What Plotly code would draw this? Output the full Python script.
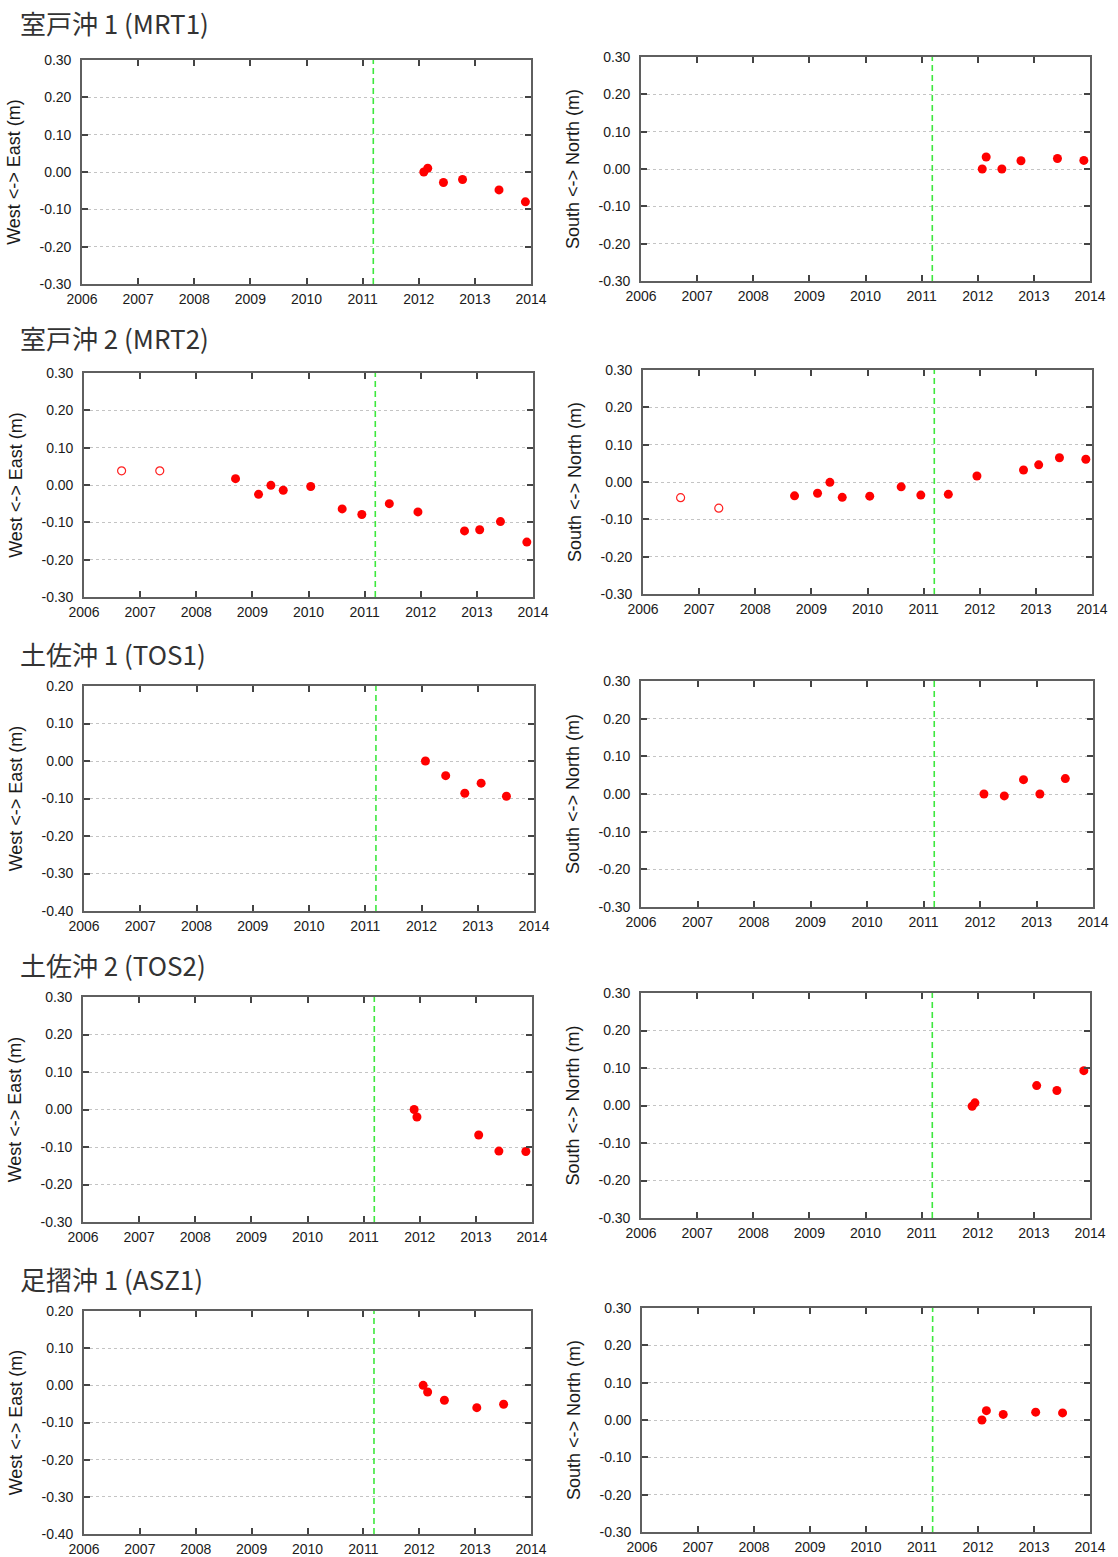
import plotly.graph_objects as go

W, H = 1118, 1557

# ---------------- data ----------------
station_titles = ["室戸沖 1 (MRT1)", "室戸沖 2 (MRT2)", "土佐沖 1 (TOS1)",
                  "土佐沖 2 (TOS2)", "足摺沖 1 (ASZ1)"]
ew_label = "West <-> East (m)"
ns_label = "South <-> North (m)"
quake_year = 2011.19
year_ticks = [2006, 2007, 2008, 2009, 2010, 2011, 2012, 2013, 2014]
year_labels = ["2006", "2007", "2008", "2009", "2010", "2011", "2012", "2013", "2014"]

# MRT1
mrt1_ew_t = [2012.09, 2012.16, 2012.44, 2012.78, 2013.43, 2013.90]
mrt1_ew_v = [0.000, 0.010, -0.028, -0.020, -0.048, -0.080]
mrt1_ns_t = [2012.08, 2012.15, 2012.43, 2012.77, 2013.42, 2013.89]
mrt1_ns_v = [0.000, 0.032, 0.000, 0.022, 0.028, 0.023]
# MRT2 (open = early campaign)
mrt2_open_t = [2006.67, 2007.35]
mrt2_ew_open_v = [0.038, 0.038]
mrt2_ns_open_v = [-0.042, -0.070]
mrt2_t = [2008.70, 2009.11, 2009.33, 2009.55, 2010.04, 2010.60, 2010.95,
          2011.44, 2011.95, 2012.78, 2013.05, 2013.42, 2013.89]
mrt2_ew_v = [0.017, -0.025, -0.001, -0.014, -0.004, -0.064, -0.079,
             -0.050, -0.072, -0.123, -0.120, -0.098, -0.153]
mrt2_ns_v = [-0.037, -0.030, -0.001, -0.041, -0.038, -0.013, -0.035,
             -0.033, 0.016, 0.032, 0.046, 0.065, 0.061]
# TOS1
tos1_t = [2012.07, 2012.43, 2012.77, 2013.06, 2013.51]
tos1_ew_v = [0.000, -0.039, -0.086, -0.059, -0.094]
tos1_ns_v = [0.000, -0.005, 0.038, 0.000, 0.041]
# TOS2
tos2_t = [2011.90, 2011.95, 2013.05, 2013.41, 2013.89]
tos2_ew_v = [0.000, -0.020, -0.068, -0.111, -0.112]
tos2_ns_v = [-0.002, 0.007, 0.053, 0.040, 0.093]
# ASZ1
asz1_t = [2012.07, 2012.15, 2012.45, 2013.03, 2013.51]
asz1_ew_v = [0.000, -0.018, -0.040, -0.060, -0.051]
asz1_ns_v = [0.000, 0.025, 0.015, 0.021, 0.019]

yt_a = [-0.30, -0.20, -0.10, 0.00, 0.10, 0.20, 0.30]
yl_a = ["-0.30", "-0.20", "-0.10", "0.00", "0.10", "0.20", "0.30"]
yt_b = [-0.40, -0.30, -0.20, -0.10, 0.00, 0.10, 0.20]
yl_b = ["-0.40", "-0.30", "-0.20", "-0.10", "0.00", "0.10", "0.20"]

# panels: (filled t, filled v, open t, open v, ytick set, ylabel)
panels = [
    (mrt1_ew_t, mrt1_ew_v, [], [], "a", ew_label),
    (mrt1_ns_t, mrt1_ns_v, [], [], "a", ns_label),
    (mrt2_t, mrt2_ew_v, mrt2_open_t, mrt2_ew_open_v, "a", ew_label),
    (mrt2_t, mrt2_ns_v, mrt2_open_t, mrt2_ns_open_v, "a", ns_label),
    (tos1_t, tos1_ew_v, [], [], "b", ew_label),
    (tos1_t, tos1_ns_v, [], [], "a", ns_label),
    (tos2_t, tos2_ew_v, [], [], "a", ew_label),
    (tos2_t, tos2_ns_v, [], [], "a", ns_label),
    (asz1_t, asz1_ew_v, [], [], "b", ew_label),
    (asz1_t, asz1_ns_v, [], [], "a", ns_label),
]

# plot-area boxes in screen pixels (left, top, right, bottom)
boxes = [
    (82, 60, 531, 284), (641, 57, 1090, 281),
    (84, 373, 533, 597), (643, 370, 1092, 594),
    (84, 686, 534, 911), (641, 681, 1093, 907),
    (83, 997, 532, 1222), (641, 993, 1090, 1218),
    (84, 1311, 531, 1534), (642, 1308, 1090, 1532),
]
title_y = [23, 337, 653, 964, 1278]


def px_x(v):
    return v / W


def px_y(v):
    return 1 - v / H


fig = go.Figure()
layout = dict(
    width=W, height=H, margin=dict(l=0, r=0, t=0, b=0, autoexpand=False),
    paper_bgcolor="white", plot_bgcolor="white", showlegend=False,
    font=dict(family="Liberation Sans, Arial, sans-serif", color="#222"),
)
shapes = []
annotations = []
frame_col = "#5f5f5f"
for i, (pt, pv, ot, ov, ys, ylab) in enumerate(panels):
    n = i + 1
    xa = "x" if n == 1 else f"x{n}"
    ya = "y" if n == 1 else f"y{n}"
    l, t, r, b = boxes[i]
    if ys == "a":
        tv, tl, rng = yt_a, yl_a, [-0.30, 0.30]
    else:
        tv, tl, rng = yt_b, yl_b, [-0.40, 0.20]
    layout[f"xaxis{'' if n == 1 else n}"] = dict(
        domain=[px_x(l), px_x(r)], anchor=ya, range=[2006, 2014],
        tickvals=year_ticks, ticktext=year_labels, automargin=False,
        ticks="inside", ticklen=6, tickwidth=1.5, tickcolor="#444",
        showline=True, linecolor=frame_col, linewidth=1.6, mirror="allticks",
        showgrid=False, zeroline=False, ticklabelstandoff=1,
        tickfont=dict(size=14, color="#1a1a1a"),
    )
    layout[f"yaxis{'' if n == 1 else n}"] = dict(
        domain=[px_y(b), px_y(t)], anchor=xa, range=rng,
        tickvals=tv, ticktext=tl, automargin=False,
        ticks="inside", ticklen=6, tickwidth=1.5, tickcolor="#444",
        showline=True, linecolor=frame_col, linewidth=1.6, mirror="allticks",
        showgrid=True, gridcolor="#c4c4c4", griddash="dot", gridwidth=1,
        zeroline=False, ticklabelstandoff=6,
        tickfont=dict(size=14, color="#1a1a1a"),
        title=dict(text=ylab, font=dict(size=18, color="#1a1a1a"), standoff=14),
    )
    # quake line
    shapes.append(dict(type="line", xref=xa, yref=f"{ya} domain",
                       x0=quake_year, x1=quake_year, y0=0, y1=1,
                       line=dict(color="#3ee83e", width=1.6, dash="6px,4px")))
    if ot:
        fig.add_trace(go.Scatter(x=ot, y=ov, mode="markers", xaxis=xa, yaxis=ya,
                                 marker=dict(size=8, color="white", symbol="circle",
                                             line=dict(color="#ff2020", width=1.2))))
    fig.add_trace(go.Scatter(x=pt, y=pv, mode="markers", xaxis=xa, yaxis=ya,
                             marker=dict(size=9, color="#ff0000", line=dict(width=0))))

for k, txt in enumerate(station_titles):
    annotations.append(dict(
        text=txt, xref="paper", yref="paper", x=px_x(19), y=px_y(title_y[k]),
        xanchor="left", yanchor="middle", showarrow=False, borderpad=0,
        font=dict(family="Noto Sans CJK JP, sans-serif", size=26, color="#333"),
    ))

layout["shapes"] = shapes
layout["annotations"] = annotations
fig.update_layout(**layout)
fig.write_html("out.html",
               config={"displayModeBar": False},
               post_script="document.body.style.margin='0px';"
                           "document.body.style.overflow='hidden';")
